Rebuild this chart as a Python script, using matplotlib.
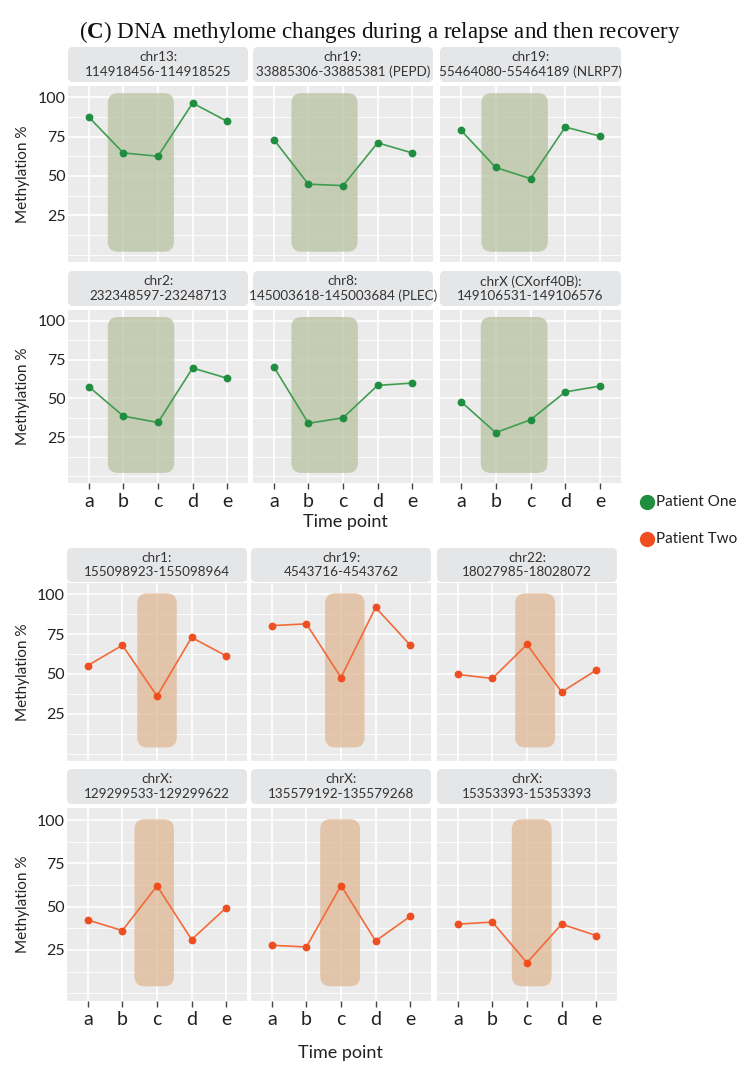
import matplotlib
matplotlib.use("Agg")
import matplotlib.pyplot as plt
from matplotlib.patches import FancyBboxPatch
from matplotlib.lines import Line2D

# ---------------- data ----------------
time_points = ["a", "b", "c", "d", "e"]
y_ticks = [25, 50, 75, 100]

p1_titles = ["chr13:\n114918456-114918525",
             "chr19:\n33885306-33885381 (PEPD)",
             "chr19:\n55464080-55464189 (NLRP7)",
             "chr2:\n232348597-23248713",
             "chr8:\n145003618-145003684 (PLEC)",
             "chrX (CXorf40B):\n149106531-149106576"]
p1_values = [[87.3, 64.6, 62.5, 96.2, 84.6],
             [73.1, 44.8, 43.9, 71.0, 64.6],
             [79.0, 55.4, 48.3, 81.0, 75.2],
             [57.6, 38.6, 34.5, 69.6, 63.0],
             [70.4, 34.0, 37.5, 58.4, 59.9],
             [48.0, 28.0, 36.2, 54.2, 58.0]]
p1_shade_x = [[1.55, 3.46], [1.51, 3.42], [1.59, 3.50],
              [1.55, 3.47], [1.51, 3.43], [1.57, 3.49]]
p1_shade_y = [2.0, 102.5]

p2_titles = ["chr1:\n155098923-155098964",
             "chr19:\n4543716-4543762",
             "chr22:\n18027985-18028072",
             "chrX:\n129299533-129299622",
             "chrX:\n135579192-135579268",
             "chrX:\n15353393-15353393"]
p2_values = [[55.3, 68.0, 36.2, 72.9, 61.3],
             [80.3, 81.4, 47.8, 91.7, 68.1],
             [49.7, 47.2, 68.5, 38.7, 52.4],
             [42.3, 36.2, 62.0, 31.0, 49.4],
             [27.7, 26.7, 62.2, 30.2, 44.4],
             [39.9, 41.1, 17.6, 39.9, 33.3]]
p2_shade_x = [[2.43, 3.57], [2.54, 3.68], [2.66, 3.81],
              [2.35, 3.49], [2.40, 3.55], [2.56, 3.71]]
p2_shade_y = [4.0, 100.5]

legend_labels = ["Patient One", "Patient Two"]
title_text = r"($\mathbf{C}$) DNA methylome changes during a relapse and then recovery"

# ---------------- style ----------------
W, H = 743, 1072
SANS = ["Lato", "DejaVu Sans"]
plt.rcParams["font.family"] = SANS
plt.rcParams["mathtext.fontset"] = "custom"
plt.rcParams["mathtext.rm"] = "Liberation Serif"
plt.rcParams["mathtext.bf"] = "Liberation Serif:bold"

GREEN_LINE = "#3f9d50"
GREEN_PT = "#1f8e40"
GREEN_SHADE = "#b8c3a2"
ORANGE_LINE = "#f26a3a"
ORANGE_PT = "#ef4f20"
ORANGE_SHADE = "#dfb794"
PANEL_BG = "#ebebeb"
STRIP_BG = "#e5e6e8"
TXT = "#222222"

fig = plt.figure(figsize=(W / 100, H / 100), dpi=100)
fig.patch.set_facecolor("white")

XLIM = (0.4, 5.6)
YLIM = (-4.5, 107)


def px_axes(x0, y0, w, h):
    return fig.add_axes([x0 / W, 1 - (y0 + h) / H, w / W, h / H])


def strip(x0, y0, w, h, text):
    sa = px_axes(x0, y0, w, h)
    sa.set_xlim(0, w)
    sa.set_ylim(0, h)
    sa.axis("off")
    sa.add_patch(FancyBboxPatch((0, 0), w, h, boxstyle="round,pad=0,rounding_size=5",
                                facecolor=STRIP_BG, edgecolor="none", clip_on=False))
    sa.text(w / 2, h / 2, text, ha="center", va="center", fontsize=9.7,
            color="#333333", linespacing=1.25)


def panel(x0, y0, w, h, vals, sx, sy, line_c, pt_c, shade_c, show_x, show_y):
    ax = px_axes(x0, y0, w, h)
    ax.set_facecolor(PANEL_BG)
    for s in ax.spines.values():
        s.set_visible(False)
    ax.set_xlim(*XLIM)
    ax.set_ylim(*YLIM)
    xs = list(range(1, len(time_points) + 1))
    # grid
    for yv in [0, 12.5, 37.5, 62.5, 87.5]:
        ax.axhline(yv, color="white", lw=0.6, zorder=0.5)
    for yv in y_ticks:
        ax.axhline(yv, color="white", lw=1.2, zorder=0.5)
    for xv in xs:
        ax.axvline(xv, color="white", lw=1.2, zorder=0.5)
    # shaded rounded box
    pxx = w / (XLIM[1] - XLIM[0])
    pxy = h / (YLIM[1] - YLIM[0])
    r = 10 / pxx
    ax.add_patch(FancyBboxPatch((sx[0], sy[0]), sx[1] - sx[0], sy[1] - sy[0],
                                boxstyle=f"round,pad=0,rounding_size={r}",
                                mutation_aspect=pxx / pxy,
                                facecolor=shade_c, edgecolor="none", alpha=0.75, zorder=1))
    ax.plot(xs, vals, color=line_c, lw=1.2, zorder=2)
    ax.plot(xs, vals, "o", color=pt_c, ms=4.6, zorder=3)
    ax.set_xticks(xs)
    ax.set_yticks(y_ticks)
    ax.tick_params(axis="y", length=0, labelsize=11.5, labelcolor=TXT, pad=1.5)
    ax.tick_params(axis="x", length=4, width=1, color="#444444", labelsize=14,
                   labelcolor=TXT, pad=3)
    if show_x:
        ax.set_xticklabels(time_points)
    else:
        ax.tick_params(axis="x", length=0)
        ax.set_xticklabels([])
    if show_y:
        ax.set_yticklabels([str(v) for v in y_ticks])
    else:
        ax.set_yticklabels([])
    return ax


# ---------------- layout (pixels) ----------------
cols_top = [(68, 180), (253, 180), (440, 181)]
cols_bot = [(67, 180), (251, 180), (437, 180)]

rows = [
    # strip_y, strip_h, plot_y, plot_h
    (47, 35, 86, 176),
    (271, 35, 310, 173),
    (548, 34, 583, 178),
    (769, 35, 808, 193),
]

for k in range(6):
    r, c = divmod(k, 3)
    sy0, sh, py0, ph = rows[r]
    x0, w = cols_top[c]
    strip(x0, sy0, w, sh, p1_titles[k])
    panel(x0, py0, w, ph, p1_values[k], p1_shade_x[k], p1_shade_y,
          GREEN_LINE, GREEN_PT, GREEN_SHADE, show_x=(r == 1), show_y=(c == 0))

for k in range(6):
    r, c = divmod(k, 3)
    sy0, sh, py0, ph = rows[r + 2]
    x0, w = cols_bot[c]
    strip(x0, sy0, w, sh, p2_titles[k])
    panel(x0, py0, w, ph, p2_values[k], p2_shade_x[k], p2_shade_y,
          ORANGE_LINE, ORANGE_PT, ORANGE_SHADE, show_x=(r == 1), show_y=(c == 0))

# y labels
for (sy0, sh, py0, ph) in rows:
    fig.text(23 / W, 1 - (py0 + ph / 2) / H, "Methylation %", rotation=90,
             ha="center", va="center", fontsize=11, color=TXT)

# x labels
fig.text(345 / W, 1 - 522 / H, "Time point", ha="center", va="center", fontsize=13, color=TXT)
fig.text(340 / W, 1 - 1053 / H, "Time point", ha="center", va="center", fontsize=13, color=TXT)

# legend
for lab, col, yy in zip(legend_labels, [GREEN_PT, ORANGE_PT], [502, 539]):
    fig.add_artist(Line2D([647 / W], [1 - yy / H], marker="o", ms=10, color=col,
                          transform=fig.transFigure, linestyle="none"))
    fig.text(656 / W, 1 - yy / H, lab, ha="left", va="center", fontsize=11, color=TXT)

# title
fig.text(380 / W, 1 - 38 / H, title_text,
         ha="center", va="baseline", fontsize=16.6, family=["Liberation Serif", "DejaVu Serif"],
         color="#111111")

fig.savefig("out.png", dpi=100)
